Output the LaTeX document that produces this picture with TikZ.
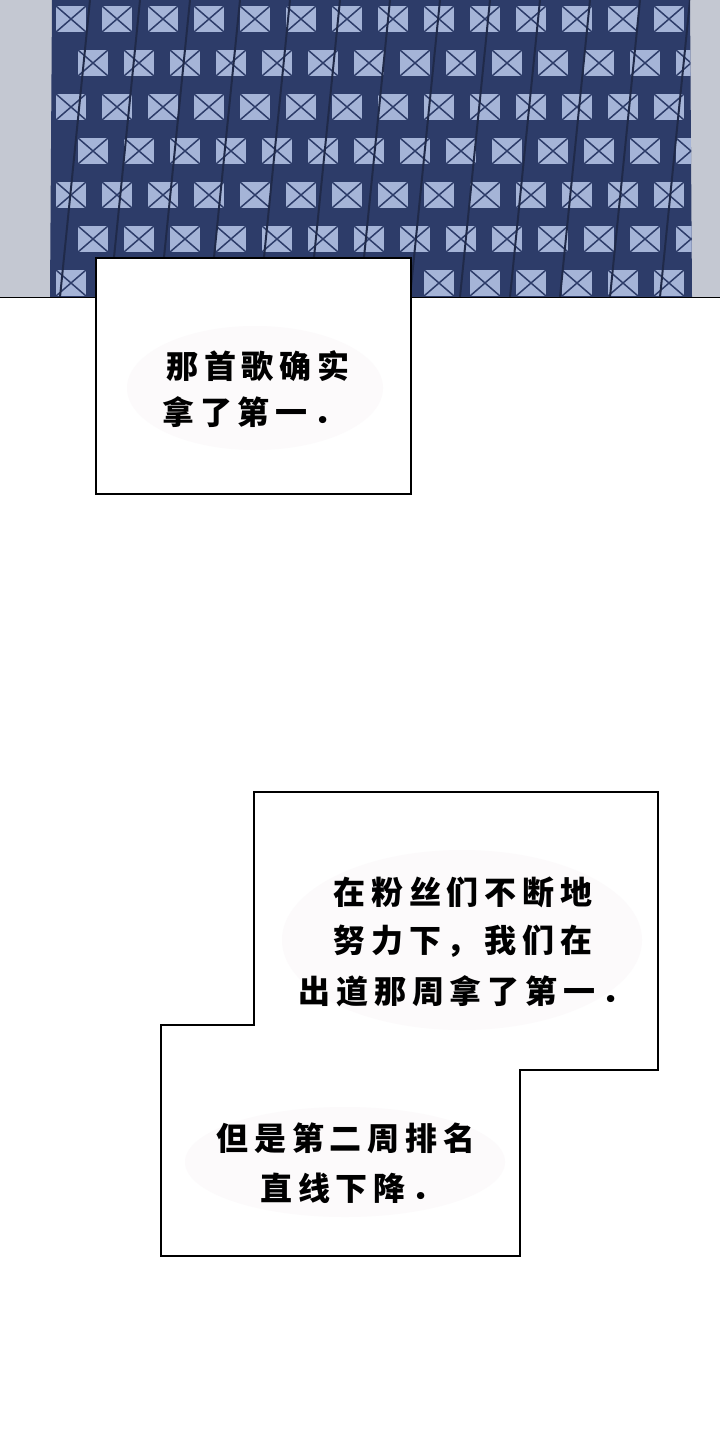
\documentclass[tikz,border=0pt]{standalone}
\usepackage{fontspec}
\newfontfamily\cjk[LetterSpace=18]{Noto Sans CJK SC}
\definecolor{wallgrey}{RGB}{196,200,210}
\definecolor{shirtnavy}{RGB}{45,60,105}
\definecolor{cellblue}{RGB}{165,180,215}
\definecolor{glowpink}{RGB}{252,250,251}
\tikzset{
  caption/.style={draw=black, line width=1.2pt, fill=white},
  line/.style={font=\cjk\bfseries\fontsize{32}{40}\selectfont, text=black, inner sep=0pt},
  glow/.style={fill=glowpink}
}
\begin{document}
\begin{tikzpicture}[x=1pt, y=-1pt]
\useasboundingbox (0,0) rectangle (720,1440);
\fill[white] (0,0) rectangle (720,1440);

% top panel
\fill[wallgrey] (0,0) rectangle (720,297);
\fill[shirtnavy] (52,0) -- (690,0) -- (692,297) -- (50,297) -- cycle;
\begin{scope}
\clip (52,0) -- (690,0) -- (692,297) -- (50,297) -- cycle;
\foreach \x in {0,...,14} {
  \foreach \y [evaluate=\y as \cx using {56+\x*46+mod(\y,2)*22}, evaluate=\y as \cy using {6+\y*44}] in {0,...,6} {
    \fill[cellblue] (\cx,\cy) rectangle ++(30,26);
    \draw[shirtnavy, line width=1.5pt] (\cx,\cy) -- ++(30,26);
    \draw[shirtnavy, line width=1.5pt] (\cx+30,\cy) -- ++(-30,26);
  }
}
\foreach \i in {0,...,14}
  \draw[shirtnavy!70!black, line width=2pt] (40+\i*50,0) -- (10+\i*50,297);
\end{scope}
\draw[line width=0.8pt] (0,297) -- (720,297);

% caption one
\draw[caption] (96,258) rectangle (411,494);
\fill[glow] (255,388) ellipse (128 and 62);
\node[line] (capA1) at (258,366) {那首歌确实};
\node[line] (capA2) at (254,412) {拿了第一．};

% caption two
\draw[caption] (254,792) -- (658,792) -- (658,1070) -- (520,1070) -- (520,1256)
  -- (161,1256) -- (161,1025) -- (254,1025) -- cycle;
\fill[glow] (462,940) ellipse (180 and 90);
\fill[glow] (345,1162) ellipse (160 and 55);
\node[line] (capB1) at (463,892) {在粉丝们不断地};
\node[line] (capB2) at (463,941) {努力下，我们在};
\node[line] (capB3) at (466,991) {出道那周拿了第一．};
\node[line] (capC1) at (346,1138) {但是第二周排名};
\node[line] (capC2) at (352,1188) {直线下降．};
\end{tikzpicture}
\end{document}
